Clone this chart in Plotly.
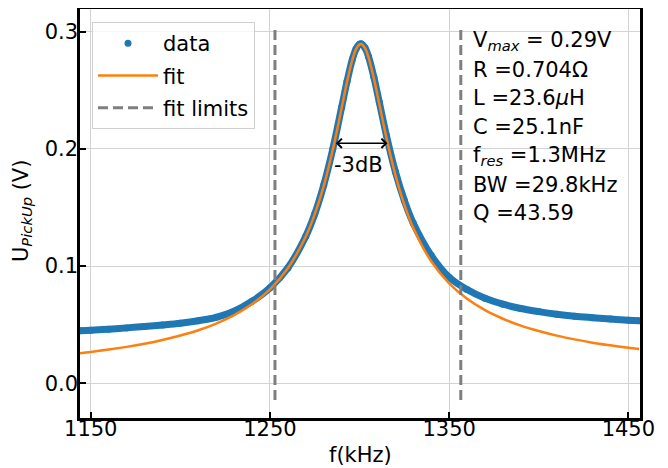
import plotly.graph_objects as go

# frequencies (kHz) at which values were read
freq = [1144, 1150, 1160, 1170, 1180, 1190, 1200, 1210, 1220, 1230, 1240, 1250,
        1260, 1270, 1275, 1280, 1285, 1290, 1293, 1296, 1298, 1300, 1301, 1303,
        1305, 1308, 1311, 1315, 1320, 1325, 1330, 1340, 1350, 1360, 1370, 1380,
        1390, 1400, 1410, 1420, 1430, 1440, 1450, 1456]

data_v = [0.0449, 0.0453, 0.0462, 0.0473, 0.0485, 0.0498, 0.0513, 0.0534, 0.0563,
          0.0615, 0.0700, 0.0815, 0.0985, 0.1255, 0.1445, 0.1690, 0.1995, 0.2355,
          0.2575, 0.2765, 0.2852, 0.2893, 0.2896, 0.2864, 0.2788, 0.2612, 0.2400,
          0.2115, 0.1805, 0.1560, 0.1365, 0.1090, 0.0905, 0.0800, 0.0725, 0.0675,
          0.0638, 0.0612, 0.0590, 0.0573, 0.0560, 0.0548, 0.0538, 0.0533]

fit_v = [0.0257, 0.0268, 0.0288, 0.0311, 0.0338, 0.0370, 0.0408, 0.0453, 0.0510,
         0.0582, 0.0676, 0.0802, 0.0982, 0.1253, 0.1443, 0.1683, 0.1988, 0.2350,
         0.2571, 0.2761, 0.2849, 0.2892, 0.2895, 0.2861, 0.2782, 0.2602, 0.2385,
         0.2096, 0.1779, 0.1525, 0.1325, 0.1041, 0.0853, 0.0721, 0.0624, 0.0551,
         0.0492, 0.0446, 0.0407, 0.0375, 0.0347, 0.0324, 0.0303, 0.0292]

fit_limits_x = [1252.8, 1252.8, None, 1356.5, 1356.5]
fit_limits_y = [-0.0142, 0.3032, None, -0.0142, 0.3032]

bw_left, bw_right, bw_level = 1285.9, 1315.6, 0.2048

x_ticks = [1150, 1250, 1350, 1450]
y_ticks = [0.0, 0.1, 0.2, 0.3]

info_lines = ["V<sub><i>max</i></sub> = 0.29V", "R =0.704Ω", "L =23.6<i>μ</i>H",
              "C =25.1nF", "f<sub><i>res</i></sub> =1.3MHz", "BW =29.8kHz", "Q =43.59"]

BLUE = "#1f77b4"
ORANGE = "#ff7f0e"
GRAY = "#7f7f7f"
FONT = "DejaVu Sans"
FS = 21

# the page body has an 8px margin; layout below is in window pixels
OFF = 8
WIN_W, WIN_H = 668, 468
PL, PR, PT, PB = 80, 640, 9, 418          # plot box in window pixels
W, H = WIN_W - OFF, WIN_H - OFF
L, T = PL - OFF, PT - OFF
R, B = WIN_W - PR, WIN_H - PB
PW, PH = PR - PL, PB - PT


def px(xw):
    return (xw - PL) / PW


def py(yw):
    return 1 - (yw - PT) / PH


fig = go.Figure()
fig.add_trace(go.Scatter(x=freq, y=data_v, mode="lines", line=dict(color=BLUE, width=7, shape="spline"),
                         showlegend=False, hoverinfo="skip", legendgroup="d"))
fig.add_trace(go.Scatter(x=freq, y=data_v, mode="markers", marker=dict(color=BLUE, size=7),
                         name="data", legendgroup="d"))
fig.add_trace(go.Scatter(x=freq, y=fit_v, mode="lines", line=dict(color=ORANGE, width=2.5, shape="spline"),
                         name="fit", legendgroup="f"))
fig.add_trace(go.Scatter(x=fit_limits_x, y=fit_limits_y, mode="lines",
                         line=dict(color=GRAY, width=3, dash="10px,5px"), name="fit limits",
                         legendgroup="l"))

annotations = []
annotations.append(dict(x=bw_right, y=bw_level, ax=bw_left, ay=bw_level, xref="x", yref="y",
                        axref="x", ayref="y", text="", showarrow=True, arrowhead=4,
                        arrowside="end+start", arrowsize=1.2, arrowwidth=1.5, arrowcolor="black"))
annotations.append(dict(x=1299.5, y=0.1863, xref="x", yref="y", text="-3dB", showarrow=False,
                        font=dict(family=FONT, size=FS, color="black")))
line_y = [40, 69, 97.5, 126, 155, 184, 212]
for txt, yy in zip(info_lines, line_y):
    annotations.append(dict(x=px(471), y=py(yy + 1), xref="paper", yref="paper",
                            xanchor="left", yanchor="middle", text=txt, showarrow=False,
                            font=dict(family=FONT, size=FS, color="black")))
# axis titles
annotations.append(dict(x=px(360), y=py(455), xref="paper", yref="paper", yanchor="middle",
                        xanchor="center", text="f(kHz)", showarrow=False,
                        font=dict(family=FONT, size=FS, color="black")))
annotations.append(dict(x=px(22), y=py(211), xref="paper", yref="paper", yanchor="middle",
                        xanchor="center", text="U<sub><i>PickUp</i></sub> (V)", showarrow=False,
                        textangle=-90, font=dict(family=FONT, size=FS, color="black")))

axis_common = dict(showline=True, linecolor="black", linewidth=2.5, mirror=True,
                   ticks="inside", ticklen=6, tickwidth=1.5, tickcolor="black",
                   showgrid=True, gridcolor="#d3d3d3", gridwidth=1, zeroline=False,
                   automargin=False,
                   tickfont=dict(family=FONT, size=FS, color="black"))

fig.update_layout(
    width=W, height=H,
    margin=dict(l=L, r=R, t=T, b=B),
    paper_bgcolor="white", plot_bgcolor="white",
    font=dict(family=FONT, size=FS, color="black"),
    xaxis=dict(range=[1144.0, 1456.5], tickvals=x_ticks, ticktext=[str(v) for v in x_ticks],
               ticklabelstandoff=-10, **axis_common),
    yaxis=dict(range=[-0.0296, 0.3194], tickvals=y_ticks, ticktext=[f"{v:.1f}" for v in y_ticks],
               ticklabelstandoff=-5, **axis_common),
    legend=dict(x=px(92), y=py(22), xanchor="left", yanchor="top", tracegroupgap=2,
                itemwidth=60,
                bgcolor="rgba(255,255,255,0.8)", bordercolor="#d0d0d0", borderwidth=1,
                font=dict(family=FONT, size=FS, color="black")),
    annotations=annotations,
)

fig.write_html("out.html")
